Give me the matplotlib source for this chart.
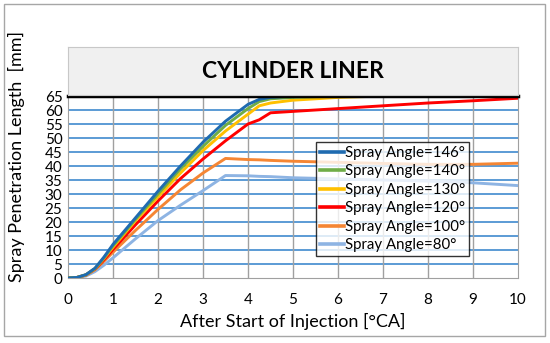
import matplotlib.pyplot as plt
from matplotlib.patches import Rectangle

plt.rcParams['font.family'] = ['Lato', 'DejaVu Sans']

# crank angle after start of injection [°CA]
x = [0, 0.2, 0.4, 0.6, 0.8, 1, 1.5, 2, 2.5, 3, 3.5, 4, 4.25, 4.5, 5, 6, 7, 8, 9, 10]

a146 = [0, 0.2, 1.2, 3.5, 7.5, 12, 21.5, 31, 40, 48.5, 56, 62, 63.8, 64.5, 65, 65, 65, 65, 65, 65]
a140 = [0, 0.2, 1.2, 3.4, 7.2, 11.5, 21, 30, 39, 47, 54.5, 60.5, 63, 64, 64.5, 65, 65, 65, 65, 65]
a130 = [0, 0.2, 1.1, 3.3, 7, 11, 20.5, 29, 37.5, 45.5, 52.5, 58.5, 61.5, 62.5, 63.5, 64.5, 65, 65, 65, 65]
a120 = [0, 0.2, 1.1, 3.2, 6.5, 10.2, 19, 27.5, 35.5, 42.5, 49, 55, 56.5, 59, 59.5, 60.5, 61.5, 62.5, 63.3, 64.2]
a100 = [0, 0.2, 1.0, 3.0, 6, 9.2, 17, 24.5, 31.5, 37.5, 42.7, 42.3, 42.2, 42, 41.7, 41.3, 40.9, 40.6, 40.6, 41]
a80 = [0, 0.1, 0.7, 2.3, 4.6, 7.2, 14, 20.5, 26, 31.2, 36.6, 36.5, 36.3, 36.2, 35.8, 35.4, 35, 34.6, 34, 33]

series = [a146, a140, a130, a120, a100, a80]
labels = ['Spray Angle=146°', 'Spray Angle=140°', 'Spray Angle=130°',
          'Spray Angle=120°', 'Spray Angle=100°', 'Spray Angle=80°']
colors = ['#1f6bb0', '#70ad47', '#ffc000', '#ff0000', '#f58634', '#8eb4e3']

fig = plt.figure(figsize=(5.5, 3.43), dpi=100)
W, H = 550, 343
ax = fig.add_axes([68 / W, 1 - 278 / H, 450 / W, 182 / H])

# outer border
fig.patches.append(Rectangle((4 / W, 7 / H), 541 / W, 332 / H, transform=fig.transFigure,
                             fill=False, ec='#a6a6a6', lw=1))
# title box
tax = fig.add_axes([68 / W, 1 - 95 / H, 450 / W, 48 / H])
tax.set_facecolor('#f0f0f0')
tax.set_xticks([])
tax.set_yticks([])
for s in tax.spines.values():
    s.set_color('#c8c8c8')
tax.text(0.5, 0.5, 'CYLINDER LINER', ha='center', va='center', fontsize=16.5,
         fontweight='bold', transform=tax.transAxes)

for yv in range(5, 65, 5):
    ax.axhline(yv, color='#5b9bd5', lw=1.4, zorder=1)
for xv in range(1, 10):
    ax.axvline(xv, color='#a0a0a0', lw=1, zorder=1)

for y, lab, c in zip(series[::-1], labels[::-1], colors[::-1]):
    ax.plot(x, y, color=c, lw=2.1, label=lab, zorder=3)

ax.set_xlim(0, 10)
ax.set_ylim(0, 65)
ax.set_xticks(range(0, 11))
ax.set_yticks(range(0, 70, 5))
ax.tick_params(length=0, labelsize=11)
ax.tick_params(axis='x', pad=11)
ax.tick_params(axis='y', pad=4)
ax.spines['top'].set_color('black')
ax.spines['top'].set_linewidth(2.5)
ax.spines['top'].set_zorder(5)
for s in ['left', 'bottom', 'right']:
    ax.spines[s].set_color('#a0a0a0')

ax.set_xlabel('After Start of Injection [°CA]', fontsize=13, labelpad=4)
ax.set_ylabel('Spray Penetration Length  [mm]', fontsize=13, labelpad=2)
ax.yaxis.set_label_coords(-0.095, 0.67)

h, l = ax.get_legend_handles_labels()
leg = ax.legend(h[::-1], l[::-1], loc='upper left', bbox_to_anchor=(248 / 450, 1 - 46 / 182),
                fontsize=10.8, frameon=True, fancybox=False, edgecolor='black',
                borderpad=0.25, labelspacing=0.3, handlelength=1.6, handletextpad=0.1,
                borderaxespad=0)
leg.get_frame().set_linewidth(1)
for ln in leg.get_lines():
    ln.set_linewidth(2.6)
leg.set_zorder(6)

fig.savefig('out.png', dpi=100)
